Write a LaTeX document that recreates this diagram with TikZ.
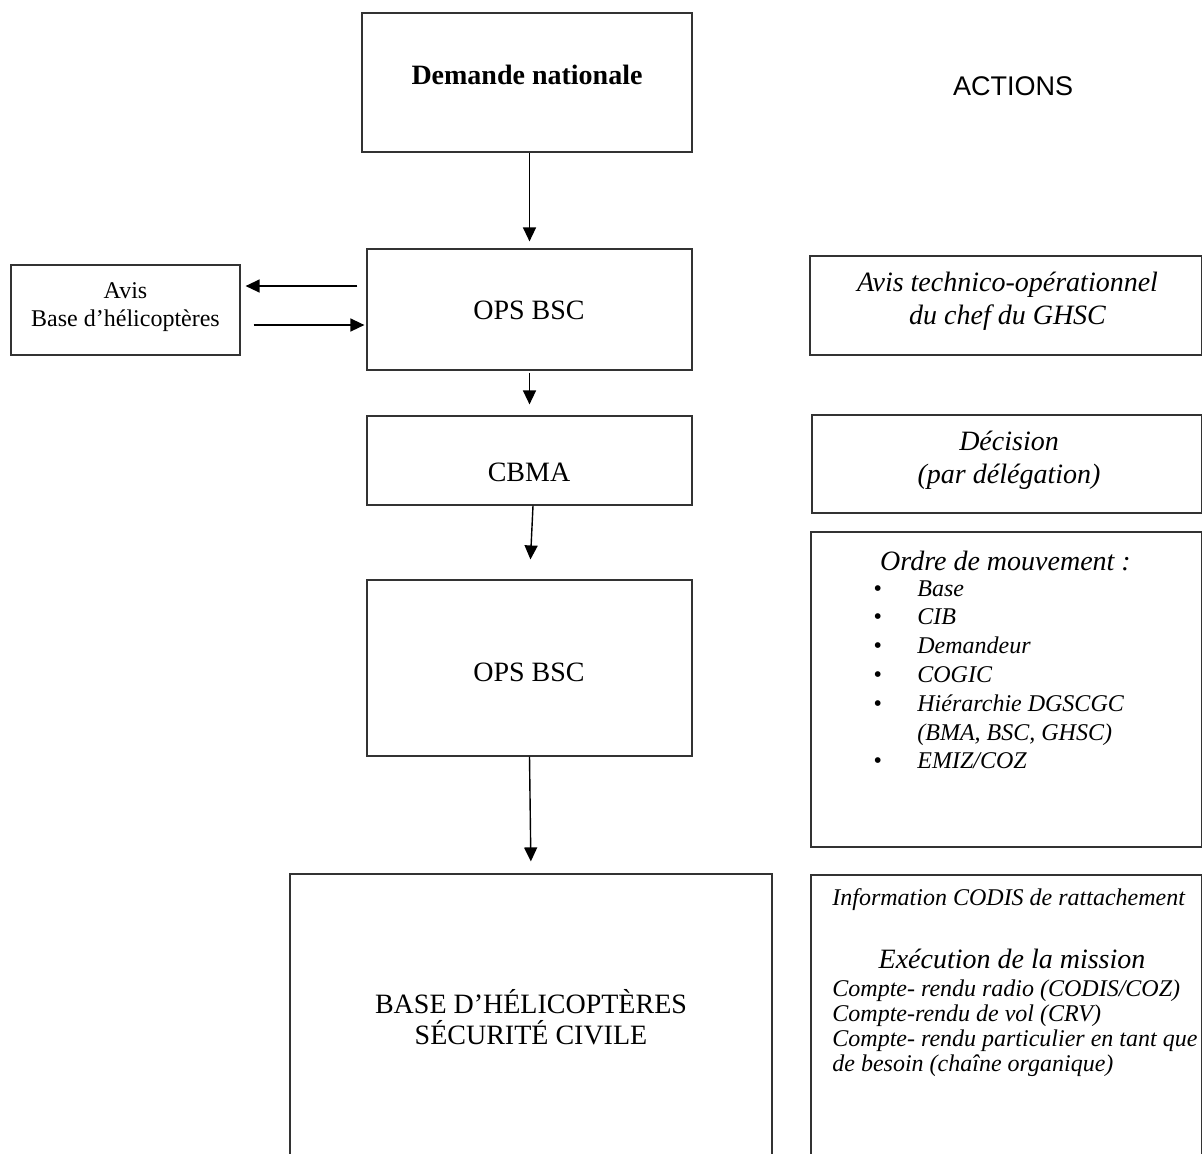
\documentclass[tikz,border=0pt]{standalone}
\usepackage{fontspec}
\setmainfont{Liberation Serif}
\newfontfamily\arialfont{Liberation Sans}
\usetikzlibrary{arrows.meta}
\newcommand{\quatorze}{\fontsize{14}{16.5}\selectfont}
\newcommand{\douze}{\fontsize{12}{14}\selectfont}
\begin{document}
\begin{tikzpicture}[x=0.5pt,y=-0.5pt]
            \tikzstyle{arrow}=[line width=0.7pt,->,>={Triangle[length=7pt,width=6.5pt]}]
            \tikzstyle{box}=[draw=black!80,line width=0.6pt,rectangle,inner sep=0pt]
            \clip (0,0) rectangle (1202,1153);
            % boxes of the chain
            \node[box,minimum width=165pt,minimum height=69.5pt] (dem) at (527,82.5) {};
            \node[box,minimum width=162.5pt,minimum height=60.5pt] (ops1) at (529.5,309.5) {};
            \node[box,minimum width=114.5pt,minimum height=45pt] (avis) at (125.5,310) {};
            \node[box,minimum width=162.5pt,minimum height=44.5pt] (cbma) at (529.5,460.5) {};
            \node[box,minimum width=162.5pt,minimum height=88pt] (ops2) at (529.5,668) {};
            \node[box,minimum width=241pt,minimum height=143pt] (base) at (531,1017) {};
            % texts of the chain
            \node[font=\quatorze\bfseries] (demt) at (527,75) {Demande nationale};
            \node[font=\quatorze] (ops1t) at (529,310) {OPS BSC};
            \node[align=center,font=\douze] (avist) at (125.5,307) {Avis\\ Base d’hélicoptères};
            \node[font=\quatorze] (cbmat) at (529,472) {CBMA};
            \node[font=\quatorze] (ops2t) at (529,672) {OPS BSC};
            \node[align=center,font=\fontsize{14}{15.5}\selectfont] (baset) at (531,1017) {BASE D’HÉLICOPTÈRES\\ SÉCURITÉ CIVILE};
            % arrows
            \draw [arrow,shorten >=3.5pt] (ops1.north |- dem.south) -- (ops1.north);
            \draw [arrow,shorten <=1pt,shorten >=5.5pt] (ops1.south) -- (cbma.north);
            \draw [arrow,shorten >=10pt] ([xshift=1.75pt]cbma.south) -- (ops2.north);
            \draw [arrow,shorten >=6pt] (ops2.south) -- (base.north);
            \draw [arrow,shorten <=4.5pt,shorten >=2.5pt] ([yshift=11.75pt]ops1.west) -- ([yshift=11.75pt]ops1.west -| avis.east);
            \draw [arrow,shorten <=6.5pt,shorten >=1pt] ([yshift=-7.5pt]avis.east) -- ([yshift=-7.5pt]avis.east -| ops1.west);
            % actions column
            \node[font=\fontsize{13.5}{16}\arialfont] (act) at (1013,86) {ACTIONS};
            \node[box,minimum width=195.75pt,minimum height=49.5pt] (tech) at (1005.75,305.5) {};
            \node[align=center,font=\quatorze\itshape] (techt) at (1007.5,301.5) {Avis technico-opérationnel\\ du chef du GHSC};
            \node[box,minimum width=194.75pt,minimum height=49pt] (dec) at (1006.75,464) {};
            \node[align=center,font=\quatorze\itshape] (dect) at (1009,460.5) {Décision\\ (par délégation)};
            \node[box,minimum width=195.25pt,minimum height=157.5pt] (ordre) at (1006.25,689.5) {};
            \node[font=\quatorze\itshape] (ordret) at (1005.5,561) {Ordre de mouvement :};
            \node[anchor=base west,inner sep=0pt,font=\fontsize{12}{14.4}\selectfont\itshape] (liste) at (873,596) {%
              \begin{tabular}[t]{@{}p{22pt}@{}l@{}}
                \textbullet & Base\\
                \textbullet & CIB\\
                \textbullet & Demandeur\\
                \textbullet & COGIC\\
                \textbullet & Hiérarchie DGSCGC\\
                            & (BMA, BSC, GHSC)\\
                \textbullet & EMIZ/COZ
              \end{tabular}};
            \node[box,minimum width=195.25pt,minimum height=142.5pt] (info) at (1006.25,1017.5) {};
            \node[anchor=west,inner sep=0pt,font=\douze\itshape] (infot) at (832,900) {Information CODIS de rattachement};
            \node[font=\quatorze\itshape] (exec) at (1012,959) {Exécution de la mission};
            \node[anchor=north west,inner sep=0pt,align=left,font=\fontsize{12}{12.5}\selectfont\itshape] (cr) at (832,979) {Compte- rendu radio (CODIS/COZ)\\ Compte-rendu de vol (CRV)\\ Compte- rendu particulier en tant que\\ de besoin (chaîne organique)};
        \end{tikzpicture}
\end{document}
